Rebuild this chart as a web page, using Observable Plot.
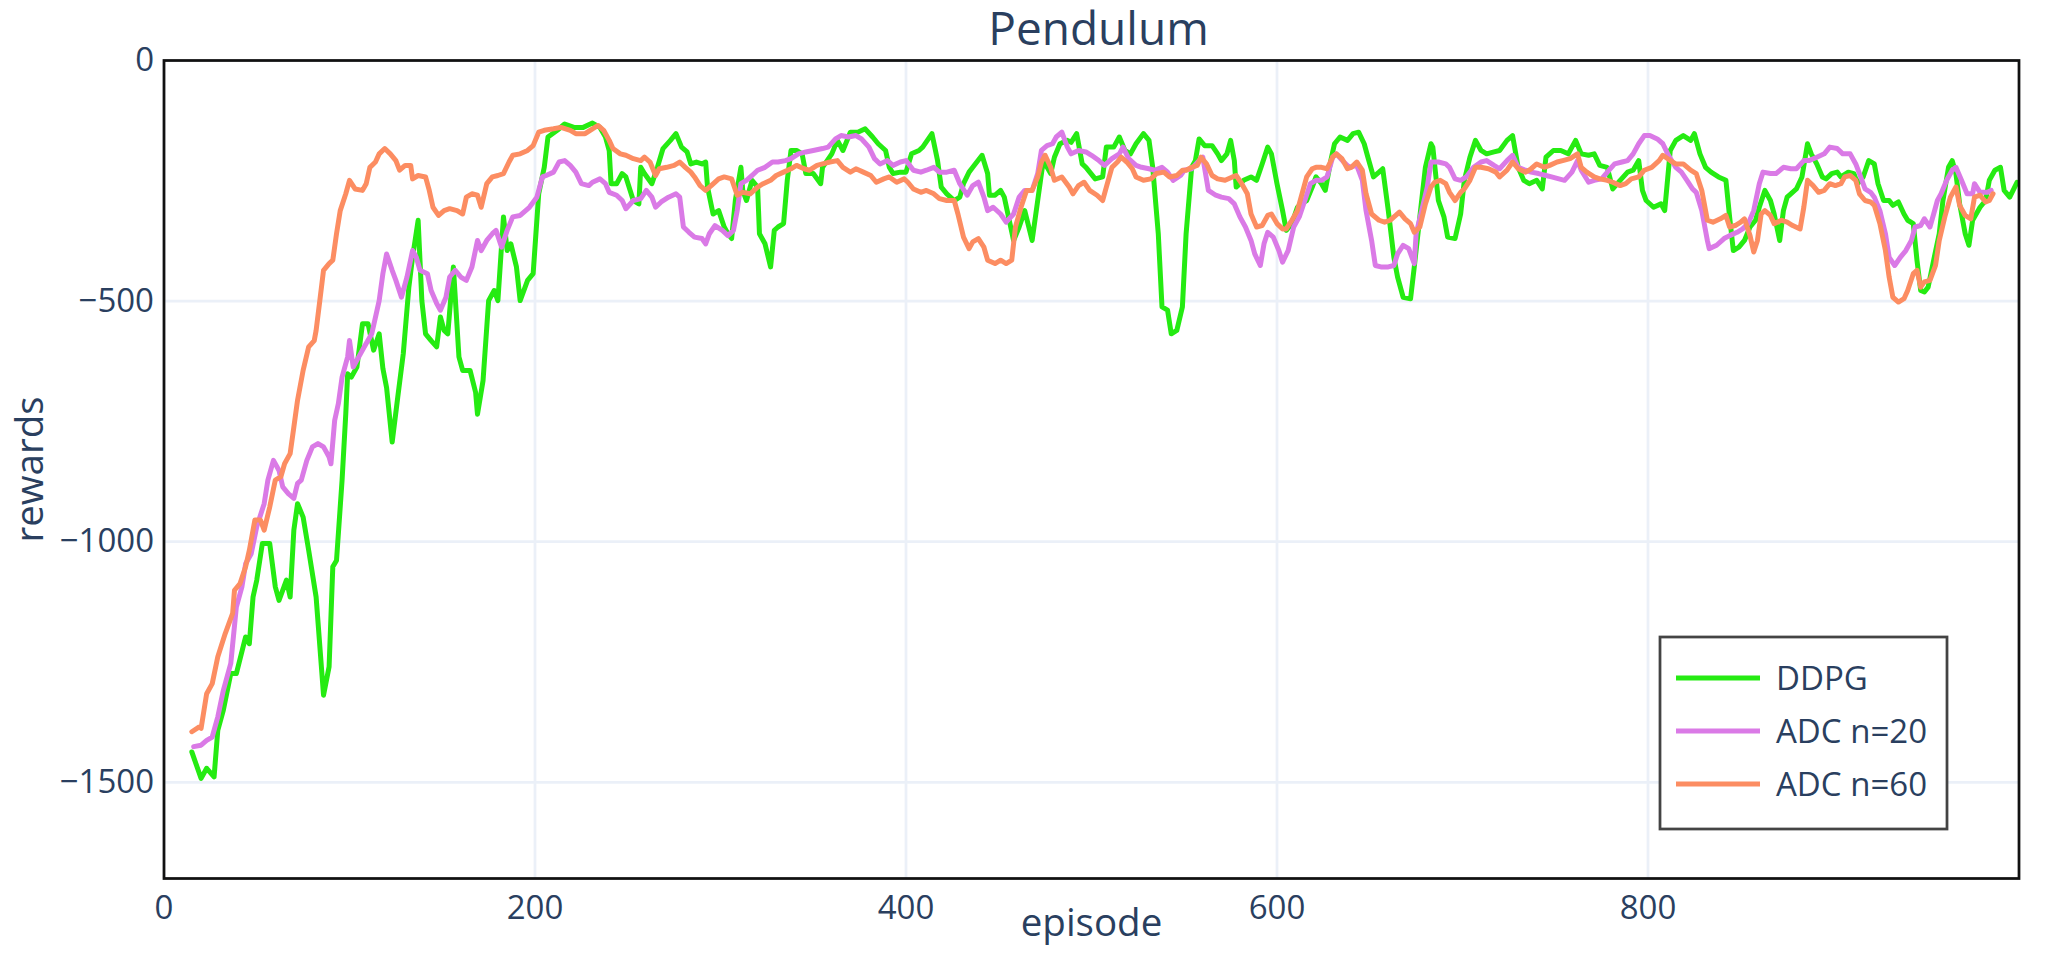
<!DOCTYPE html>
<html>
<head>
<meta charset="utf-8">
<script src="https://cdn.jsdelivr.net/npm/d3@7"></script>
<script src="https://cdn.jsdelivr.net/npm/@observablehq/plot@0.6"></script>
<style>
  html, body { margin: 0; padding: 0; background: #fff; }
  #chart { width: 2051px; height: 957px; }
</style>
</head>
<body>
<div id="chart"></div>
<script>
const chartTitle = "Pendulum";
const xLabel = "episode";
const yLabel = "rewards";
const seriesNames = ["DDPG", "ADC n=20", "ADC n=60"];
const seriesColors = ["#25eb12", "#da7ae6", "#fc8d62"];
const xTicks = [0, 200, 400, 600, 800];
const yTicks = [0, -500, -1000, -1500];

const ddpg = [[15,-1437],[20,-1492],[23,-1471],[27,-1489],[29,-1392],[32,-1350],[36,-1274],[39,-1274],[44,-1198],[46,-1212],[48,-1115],[50,-1080],[53,-1004],[57,-1004],[60,-1094],[62,-1122],[66,-1080],[68,-1115],[70,-976],[72,-921],[75,-949],[78,-1018],[82,-1115],[86,-1319],[89,-1260],[91,-1052],[93,-1039],[96,-872],[98,-734],[99,-651],[101,-658],[104,-637],[107,-547],[110,-547],[113,-602],[116,-568],[118,-640],[120,-680],[123,-793],[126,-700],[129,-609],[132,-471],[134,-409],[137,-332],[139,-499],[141,-568],[144,-582],[147,-595],[149,-533],[151,-561],[153,-568],[156,-429],[159,-616],[161,-644],[165,-644],[168,-690],[169,-735],[172,-665],[175,-499],[178,-478],[180,-499],[183,-325],[185,-395],[187,-381],[190,-429],[192,-499],[196,-457],[199,-443],[202,-277],[205,-222],[207,-159],[212,-145],[216,-132],[221,-139],[226,-139],[231,-130],[235,-139],[238,-159],[240,-187],[241,-256],[244,-256],[247,-235],[249,-242],[253,-291],[256,-298],[257,-222],[259,-235],[263,-256],[266,-222],[269,-183],[273,-166],[276,-152],[279,-180],[282,-190],[284,-215],[287,-211],[290,-215],[292,-211],[293,-263],[296,-319],[299,-312],[302,-346],[304,-360],[306,-370],[308,-291],[311,-222],[312,-270],[314,-291],[317,-249],[320,-263],[321,-360],[324,-381],[327,-429],[329,-353],[331,-346],[334,-339],[336,-249],[338,-187],[341,-187],[344,-194],[346,-235],[350,-235],[354,-256],[355,-222],[360,-194],[363,-166],[366,-187],[370,-149],[374,-149],[378,-142],[382,-159],[385,-173],[389,-187],[391,-222],[393,-235],[397,-232],[400,-232],[403,-194],[407,-187],[409,-180],[414,-152],[417,-208],[419,-263],[422,-277],[426,-291],[429,-284],[431,-256],[434,-232],[436,-222],[441,-197],[444,-235],[445,-280],[448,-280],[451,-270],[453,-284],[458,-374],[461,-346],[464,-312],[468,-374],[471,-291],[474,-208],[478,-235],[480,-201],[483,-173],[487,-166],[489,-170],[492,-152],[495,-215],[497,-222],[502,-246],[506,-242],[508,-180],[512,-180],[515,-159],[518,-187],[521,-194],[524,-173],[528,-152],[531,-166],[533,-222],[536,-360],[538,-512],[541,-519],[543,-568],[546,-561],[549,-512],[551,-360],[554,-222],[556,-208],[558,-163],[561,-177],[565,-177],[568,-194],[570,-208],[573,-194],[575,-166],[577,-208],[578,-263],[582,-249],[586,-242],[589,-249],[592,-215],[595,-180],[597,-194],[600,-256],[603,-312],[605,-353],[608,-339],[611,-305],[613,-298],[616,-291],[619,-263],[621,-242],[624,-256],[626,-270],[629,-208],[631,-173],[634,-159],[638,-166],[641,-152],[644,-149],[647,-173],[649,-201],[652,-242],[655,-232],[657,-225],[660,-312],[663,-409],[665,-450],[668,-492],[672,-495],[674,-429],[677,-325],[680,-222],[683,-173],[684,-180],[687,-291],[690,-325],[692,-367],[696,-370],[699,-319],[701,-249],[704,-201],[707,-166],[710,-187],[713,-194],[717,-190],[720,-187],[724,-166],[727,-156],[730,-222],[733,-249],[736,-256],[740,-249],[743,-267],[745,-201],[749,-187],[753,-187],[757,-194],[761,-166],[764,-194],[768,-197],[771,-194],[774,-218],[778,-222],[781,-267],[785,-249],[789,-232],[792,-228],[795,-208],[797,-270],[799,-291],[803,-305],[807,-298],[809,-312],[812,-187],[815,-166],[819,-156],[823,-166],[825,-152],[828,-194],[831,-222],[834,-232],[838,-242],[842,-249],[844,-325],[846,-395],[849,-388],[852,-374],[855,-346],[858,-332],[860,-305],[863,-270],[866,-291],[868,-319],[871,-374],[873,-312],[875,-284],[877,-277],[880,-267],[883,-242],[886,-173],[888,-194],[891,-215],[894,-242],[896,-246],[899,-235],[902,-232],[904,-242],[908,-232],[911,-235],[913,-256],[916,-242],[919,-208],[922,-215],[924,-256],[927,-291],[930,-291],[932,-301],[935,-294],[938,-319],[940,-332],[943,-339],[945,-415],[947,-478],[949,-481],[951,-471],[954,-415],[957,-360],[959,-291],[962,-222],[964,-208],[966,-235],[968,-298],[971,-360],[973,-384],[975,-332],[979,-305],[982,-291],[984,-249],[987,-228],[990,-222],[992,-270],[995,-284],[999,-253]];

const adc20 = [[16,-1426],[20,-1423],[23,-1413],[26,-1406],[29,-1364],[32,-1309],[36,-1253],[39,-1136],[42,-1094],[44,-1046],[47,-1025],[50,-969],[54,-921],[56,-872],[59,-831],[62,-852],[64,-886],[67,-900],[70,-910],[72,-879],[74,-872],[77,-831],[80,-803],[83,-796],[86,-803],[89,-824],[90,-838],[92,-748],[94,-713],[96,-658],[99,-616],[100,-582],[102,-637],[105,-616],[108,-595],[112,-568],[116,-499],[118,-443],[120,-402],[123,-436],[125,-457],[128,-492],[131,-450],[134,-395],[136,-409],[138,-436],[142,-443],[144,-478],[147,-505],[149,-519],[152,-492],[154,-450],[157,-436],[160,-450],[163,-457],[166,-429],[169,-374],[171,-395],[174,-374],[177,-360],[179,-353],[182,-388],[185,-353],[188,-325],[192,-322],[197,-305],[201,-284],[204,-242],[206,-239],[210,-232],[213,-211],[216,-208],[219,-218],[222,-232],[225,-256],[229,-260],[231,-253],[235,-246],[238,-256],[240,-274],[244,-280],[247,-291],[249,-308],[253,-291],[257,-287],[260,-270],[263,-284],[265,-305],[268,-294],[272,-284],[276,-277],[278,-284],[280,-346],[283,-357],[286,-367],[290,-370],[292,-381],[294,-360],[297,-343],[301,-353],[304,-364],[307,-353],[309,-312],[311,-256],[314,-249],[317,-239],[320,-228],[324,-222],[328,-211],[331,-211],[335,-208],[338,-204],[342,-194],[346,-190],[350,-187],[355,-183],[358,-180],[362,-163],[365,-156],[369,-159],[373,-156],[376,-163],[380,-180],[383,-204],[386,-215],[390,-208],[393,-218],[397,-211],[400,-208],[404,-228],[408,-232],[411,-228],[415,-222],[418,-232],[422,-232],[426,-228],[429,-256],[433,-280],[436,-260],[439,-253],[442,-284],[444,-312],[447,-305],[451,-319],[454,-336],[458,-319],[461,-284],[464,-270],[468,-270],[471,-235],[473,-187],[476,-177],[479,-173],[481,-159],[484,-149],[487,-180],[489,-194],[493,-187],[497,-190],[500,-197],[504,-208],[507,-218],[511,-204],[515,-194],[517,-180],[520,-204],[524,-218],[527,-222],[531,-225],[534,-228],[538,-222],[541,-232],[544,-249],[548,-239],[550,-228],[554,-225],[558,-208],[560,-201],[563,-270],[567,-280],[570,-284],[574,-287],[577,-298],[580,-325],[583,-346],[586,-374],[588,-402],[591,-426],[593,-381],[595,-357],[598,-367],[601,-395],[603,-419],[606,-395],[609,-346],[612,-325],[615,-291],[618,-256],[621,-249],[624,-249],[627,-242],[630,-201],[632,-194],[636,-211],[639,-222],[643,-218],[646,-249],[648,-312],[651,-374],[653,-426],[656,-429],[660,-429],[663,-426],[665,-402],[668,-384],[671,-391],[674,-422],[675,-360],[678,-312],[681,-263],[683,-211],[687,-211],[691,-215],[693,-222],[696,-246],[699,-249],[702,-242],[706,-222],[710,-211],[713,-208],[717,-218],[720,-225],[724,-208],[727,-197],[730,-222],[734,-228],[737,-232],[741,-235],[745,-239],[748,-242],[752,-246],[755,-249],[759,-232],[762,-208],[764,-228],[768,-253],[771,-249],[775,-246],[779,-228],[782,-215],[786,-211],[789,-208],[792,-194],[795,-173],[798,-156],[801,-156],[805,-163],[808,-173],[811,-197],[815,-222],[818,-232],[821,-249],[824,-267],[826,-274],[829,-312],[832,-374],[833,-391],[837,-384],[841,-370],[844,-364],[848,-357],[851,-350],[854,-339],[857,-312],[860,-256],[862,-232],[866,-235],[869,-235],[873,-222],[877,-225],[880,-225],[884,-208],[887,-208],[891,-201],[895,-194],[898,-180],[902,-183],[905,-194],[909,-194],[912,-215],[914,-235],[917,-267],[920,-274],[922,-284],[925,-312],[928,-360],[930,-409],[933,-426],[936,-409],[939,-395],[942,-374],[944,-346],[947,-343],[949,-329],[952,-346],[954,-319],[956,-291],[958,-277],[961,-249],[964,-228],[966,-222],[969,-249],[972,-277],[975,-277],[976,-256],[979,-274],[983,-274],[985,-270]];

const adc60 = [[15,-1395],[19,-1385],[20,-1388],[23,-1316],[26,-1295],[29,-1239],[33,-1191],[37,-1149],[38,-1101],[41,-1087],[44,-1052],[46,-1018],[49,-955],[52,-955],[54,-976],[57,-928],[60,-872],[63,-865],[65,-838],[68,-817],[70,-762],[72,-706],[75,-644],[78,-595],[81,-582],[82,-561],[84,-499],[86,-436],[89,-422],[91,-415],[93,-360],[95,-312],[98,-277],[100,-249],[103,-267],[107,-270],[109,-256],[111,-222],[114,-211],[116,-194],[119,-183],[122,-194],[125,-208],[127,-228],[130,-218],[133,-218],[134,-246],[137,-239],[141,-242],[143,-270],[145,-305],[148,-322],[151,-312],[154,-308],[158,-312],[161,-319],[163,-284],[166,-277],[169,-280],[171,-305],[174,-256],[177,-242],[180,-239],[183,-235],[186,-211],[188,-197],[192,-194],[196,-187],[199,-177],[202,-149],[205,-145],[210,-142],[214,-139],[219,-145],[222,-152],[227,-152],[231,-142],[234,-135],[237,-145],[240,-166],[242,-183],[246,-194],[249,-197],[253,-204],[257,-208],[259,-201],[262,-211],[265,-239],[267,-225],[271,-222],[275,-218],[278,-211],[281,-222],[284,-232],[286,-242],[289,-260],[292,-270],[295,-260],[299,-246],[302,-242],[306,-246],[309,-280],[312,-274],[316,-277],[320,-263],[323,-256],[327,-249],[330,-239],[334,-232],[338,-225],[341,-218],[345,-225],[348,-228],[352,-218],[355,-215],[359,-211],[363,-208],[366,-222],[370,-232],[373,-225],[377,-232],[381,-239],[384,-253],[388,-246],[391,-242],[395,-253],[399,-246],[401,-253],[404,-267],[408,-274],[411,-270],[415,-277],[418,-287],[422,-291],[426,-291],[428,-319],[431,-367],[434,-391],[436,-377],[439,-370],[442,-388],[444,-415],[448,-422],[451,-415],[454,-422],[457,-415],[459,-346],[462,-305],[465,-270],[468,-270],[471,-242],[473,-211],[475,-197],[478,-222],[480,-249],[484,-242],[488,-263],[490,-277],[493,-260],[496,-253],[499,-270],[503,-280],[506,-291],[508,-263],[511,-222],[514,-211],[516,-201],[519,-211],[522,-225],[524,-242],[528,-249],[532,-246],[535,-235],[539,-232],[542,-242],[546,-239],[549,-228],[551,-228],[554,-222],[557,-218],[559,-201],[562,-215],[565,-239],[568,-246],[572,-249],[576,-242],[578,-239],[581,-256],[584,-277],[586,-319],[589,-346],[592,-343],[595,-322],[597,-319],[600,-339],[603,-350],[605,-350],[608,-332],[611,-312],[613,-284],[616,-242],[619,-225],[621,-222],[624,-222],[627,-225],[630,-201],[632,-194],[635,-204],[638,-225],[640,-222],[643,-211],[646,-228],[648,-277],[651,-319],[655,-332],[658,-336],[661,-332],[664,-322],[666,-315],[669,-329],[672,-339],[674,-357],[677,-346],[680,-298],[683,-263],[685,-253],[688,-249],[691,-256],[693,-274],[696,-291],[699,-274],[701,-267],[704,-249],[707,-222],[710,-222],[714,-225],[718,-232],[720,-242],[724,-228],[727,-211],[730,-225],[734,-232],[737,-225],[740,-215],[744,-222],[747,-218],[751,-211],[754,-208],[758,-204],[762,-194],[764,-222],[767,-232],[771,-242],[774,-246],[778,-249],[781,-253],[785,-260],[788,-256],[791,-246],[795,-242],[798,-228],[802,-222],[806,-208],[808,-197],[812,-208],[815,-215],[819,-215],[823,-228],[826,-235],[829,-270],[832,-332],[835,-336],[839,-329],[842,-322],[844,-346],[847,-343],[850,-336],[852,-329],[855,-364],[857,-398],[859,-374],[861,-319],[863,-312],[866,-322],[868,-339],[872,-332],[875,-336],[878,-343],[882,-350],[884,-305],[886,-249],[889,-260],[892,-274],[895,-270],[898,-256],[901,-260],[904,-256],[906,-242],[909,-239],[912,-249],[914,-277],[917,-291],[920,-294],[922,-301],[925,-339],[928,-395],[930,-450],[932,-492],[935,-502],[938,-495],[940,-478],[943,-443],[945,-436],[947,-471],[949,-460],[952,-457],[955,-426],[957,-374],[960,-325],[963,-284],[966,-263],[968,-301],[971,-322],[974,-329],[976,-284],[979,-280],[982,-294],[984,-291],[986,-277]];

const seriesData = [ddpg, adc20, adc60];
const rows = seriesData.flatMap((arr, i) => arr.map(([episode, reward]) => ({episode, reward, series: seriesNames[i]})));

const textColor = "#2a3f5f";
const fmt = d => d < 0 ? "\u2212" + Math.abs(d) : String(d);

const W = 2051, H = 957;
const mL = 163.5, mR = 32.5, mT = 60, mB = 79;

const plot = Plot.plot({
  width: W,
  height: H,
  marginLeft: mL,
  marginRight: mR,
  marginTop: mT,
  marginBottom: mB,
  style: {fontFamily: "'Open Sans', sans-serif", fontSize: "33px", color: textColor, background: "#fff", overflow: "visible"},
  x: {domain: [0, 1000]},
  y: {domain: [-1700, 0]},
  color: {domain: seriesNames, range: seriesColors},
  marks: [
    Plot.gridX(xTicks, {stroke: "#EBF0F8", strokeOpacity: 1, strokeWidth: 2.75}),
    Plot.gridY(yTicks, {stroke: "#EBF0F8", strokeOpacity: 1, strokeWidth: 2.75}),
    Plot.axisX(xTicks, {tickSize: 0, tickPadding: 17, tickFormat: fmt, label: null, fill: textColor}),
    Plot.axisY(yTicks, {tickSize: 0, tickPadding: 10, tickFormat: fmt, label: null, fill: textColor}),
    Plot.line(rows, {x: "episode", y: "reward", z: "series", stroke: "series", strokeWidth: 5, strokeLinejoin: "round", strokeLinecap: "round"}),
    Plot.frame({stroke: "#111", strokeWidth: 2.75}),
    Plot.text([chartTitle], {frameAnchor: "top", lineAnchor: "middle", textAnchor: "middle", dy: -30, dx: 7, fontSize: 46, fill: textColor}),
    Plot.text([xLabel], {frameAnchor: "bottom", lineAnchor: "middle", textAnchor: "middle", dy: 45, fontSize: 38.5, fill: textColor}),
    Plot.text([yLabel], {frameAnchor: "left", lineAnchor: "middle", textAnchor: "middle", dx: -133, rotate: -90, fontSize: 38.5, fill: textColor})
  ]
});

document.getElementById("chart").appendChild(plot);

// Legend box (inside the plot, bottom right)
const svg = d3.select(plot);
const lg = svg.append("g").attr("class", "legend");
const box = {x: 1660, y: 637, w: 287, h: 192};
lg.append("rect").attr("x", box.x).attr("y", box.y).attr("width", box.w).attr("height", box.h)
  .attr("fill", "#fff").attr("stroke", "#444").attr("stroke-width", 2.75);
seriesNames.forEach((name, i) => {
  const cy = box.y + 41 + i * 53;
  lg.append("line").attr("x1", box.x + 16).attr("x2", box.x + 100).attr("y1", cy).attr("y2", cy)
    .attr("stroke", seriesColors[i]).attr("stroke-width", 5);
  lg.append("text").attr("x", box.x + 116).attr("y", cy).attr("dy", "0.35em")
    .attr("text-anchor", "start")
    .attr("fill", textColor).attr("font-size", 33).attr("font-family", "'Open Sans', sans-serif")
    .text(name);
});
</script>
</body>
</html>
